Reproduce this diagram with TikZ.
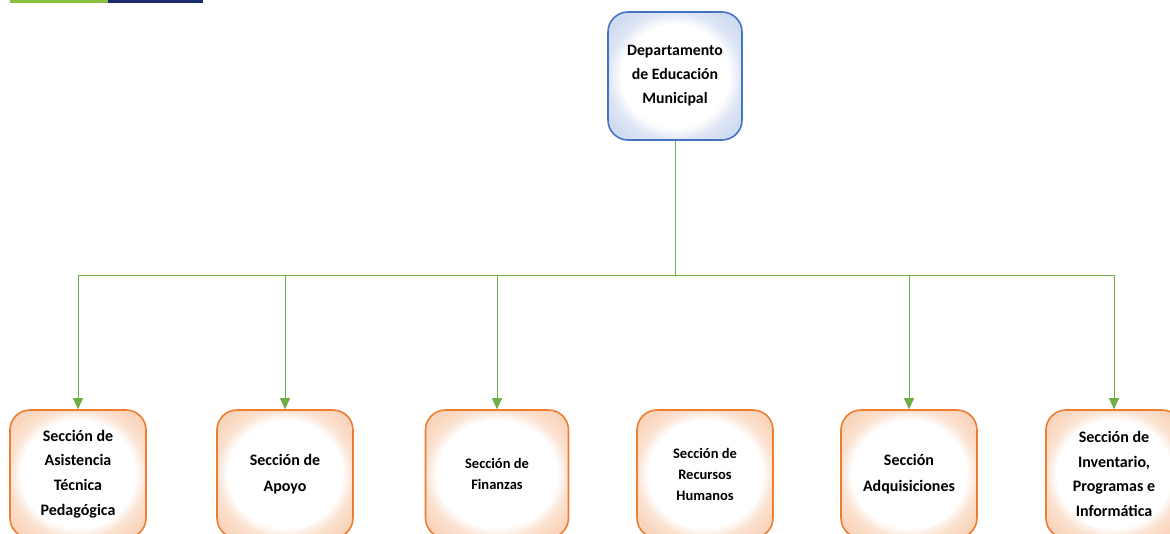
\documentclass[tikz,border=0pt]{standalone}
\usepackage{fontspec}
\setmainfont{Carlito}
\usetikzlibrary{arrows.meta}

\definecolor{linegreen}{HTML}{70AD47}
\definecolor{boxblue}{HTML}{4472C4}
\definecolor{boxorange}{HTML}{ED7D31}
\definecolor{barnavy}{HTML}{1B2A6B}
\definecolor{bargreen}{HTML}{8CBF3F}

\pgfdeclareradialshading{orangeglow}{\pgfpoint{0bp}{0bp}}{%
  color(0bp)=(white); color(21bp)=(white); color(25bp)=(boxorange!22); color(30bp)=(boxorange!32); color(50bp)=(boxorange!35)}
\pgfdeclareradialshading{blueglow}{\pgfpoint{0bp}{0bp}}{%
  color(0bp)=(white); color(20bp)=(white); color(25bp)=(boxblue!18); color(30bp)=(boxblue!25); color(50bp)=(boxblue!28)}

\begin{document}
\begin{tikzpicture}[
  x = 1pt, y = -1pt,
  every node/.style = {font = \bfseries, align = center},
  headbox/.style = {draw = boxblue, line width = 1.6pt, rounded corners = 20pt,
                    minimum width = 134pt, minimum height = 128pt,
                    shading = blueglow,
                    font = \bfseries\fontsize{15.8}{24}\selectfont},
  secbox/.style = {draw = boxorange, line width = 1.6pt, rounded corners = 20pt,
                   minimum width = 136pt, minimum height = 128pt,
                   shading = orangeglow,
                   font = \bfseries\fontsize{16}{26}\selectfont},
  smallsec/.style = {secbox, font = \bfseries\fontsize{14.5}{21}\selectfont},
  conn/.style = {draw = linegreen, line width = 0.9pt},
  arrow/.style = {conn, -{Triangle[length = 11pt, width = 10pt]}},
  ]
  \useasboundingbox (0,0) rectangle (1170,533);
  \clip (0,0) rectangle (1170,533);

  % top strip
  \fill[bargreen] (10,0) rectangle (108,2.5);
  \fill[barnavy] (108,0) rectangle (203,2.5);

  \node[headbox] (dem) at (675,76) {Departamento\\de Educación\\Municipal};

  \node[secbox, font = \bfseries\fontsize{16}{24.6}\selectfont] (asis) at (78,474)
    {Sección de\\Asistencia\\Técnica\\Pedagógica};
  \node[secbox] (apoyo) at (285,474) {Sección de\\Apoyo};
  \node[smallsec, minimum width = 143pt] (fin) at (497,474) {Sección de\\Finanzas};
  \node[smallsec] (rrhh) at (705,474) {Sección de\\Recursos\\Humanos};
  \node[secbox] (adq) at (909,474) {Sección\\Adquisiciones};
  \node[secbox, font = \bfseries\fontsize{16}{24.6}\selectfont] (inv) at (1114,474)
    {Sección de\\Inventario,\\Programas e\\Informática};

  \coordinate (bus) at (675,275);
  \draw[conn] (dem.south) -- (bus);
  \draw[arrow] (bus) -| (asis.north);
  \draw[arrow] (bus) -| (apoyo.north);
  \draw[arrow] (bus) -| (fin.north);
  \draw[arrow] (bus) -| (adq.north);
  \draw[arrow] (bus) -| (inv.north);
\end{tikzpicture}
\end{document}
